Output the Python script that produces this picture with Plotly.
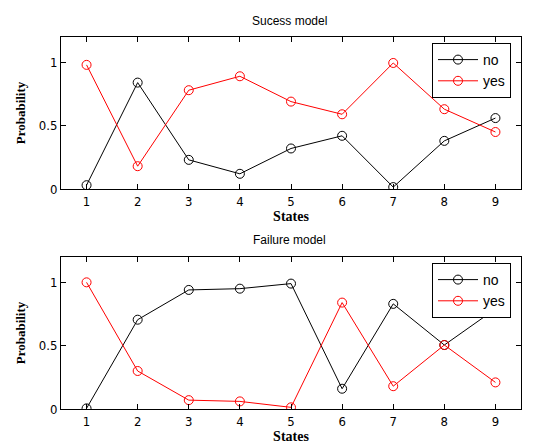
import plotly.graph_objects as go

states = [1, 2, 3, 4, 5, 6, 7, 8, 9]
success_no = [0.03, 0.84, 0.23, 0.12, 0.32, 0.42, 0.015, 0.38, 0.56]
success_yes = [0.98, 0.18, 0.78, 0.89, 0.69, 0.59, 0.995, 0.63, 0.45]
failure_no = [0.005, 0.705, 0.94, 0.95, 0.99, 0.16, 0.83, 0.505, 0.79]
failure_yes = [1.0, 0.30, 0.07, 0.06, 0.013, 0.84, 0.18, 0.505, 0.21]
tick_vals_y = [0, 0.5, 1]
tick_text_y = ["0", "0.5", "1"]

W, H = 545, 446
L, R = 61, 521
top_box = (37, 189)
bot_box = (257, 409)

def yd(box):
    return [(H - box[1]) / H, (H - box[0]) / H]

fig = go.Figure()
mk = dict(symbol="circle-open", size=9, line=dict(width=1))
fig.add_trace(go.Scatter(x=states, y=success_no, name="no", mode="lines+markers",
                         line=dict(color="black", width=1), marker=dict(color="black", **mk),
                         xaxis="x", yaxis="y", legend="legend"))
fig.add_trace(go.Scatter(x=states, y=success_yes, name="yes", mode="lines+markers",
                         line=dict(color="red", width=1), marker=dict(color="red", **mk),
                         xaxis="x", yaxis="y", legend="legend"))
fig.add_trace(go.Scatter(x=states, y=failure_no, name="no", mode="lines+markers",
                         line=dict(color="black", width=1), marker=dict(color="black", **mk),
                         xaxis="x2", yaxis="y2", legend="legend2"))
fig.add_trace(go.Scatter(x=states, y=failure_yes, name="yes", mode="lines+markers",
                         line=dict(color="red", width=1), marker=dict(color="red", **mk),
                         xaxis="x2", yaxis="y2", legend="legend2"))

tickfont = dict(family="DejaVu Sans Condensed, Liberation Sans Narrow, Liberation Sans", size=13, color="black")
titlefont = dict(family="Liberation Serif", size=14, color="black", weight="bold")
ytitlefont = dict(family="Liberation Serif", size=13, color="black", weight="bold")

common_x = dict(range=[0.5, 9.5], tickvals=states, ticks="inside", ticklen=5, tickcolor="black",
                showline=True, linecolor="black", linewidth=1, mirror="ticks", showgrid=False,
                zeroline=False, tickfont=tickfont, automargin=False,
                title=dict(text="States", font=titlefont, standoff=2))
common_y = dict(range=[0, 1.2], tickvals=tick_vals_y, ticktext=tick_text_y, ticks="inside", ticklen=5,
                tickcolor="black", showline=True, linecolor="black", linewidth=1, mirror="ticks",
                showgrid=False, zeroline=False, tickfont=tickfont, automargin=False,
                title=dict(text="Probability", font=ytitlefont, standoff=10))

legfont = dict(family="Liberation Sans", size=14, color="black")
fig.update_layout(
    width=W, height=H, margin=dict(l=0, r=0, t=0, b=0, autoexpand=False),
    paper_bgcolor="white", plot_bgcolor="white",
    xaxis=dict(domain=[L / W, R / W], anchor="y", **common_x),
    yaxis=dict(domain=yd(top_box), anchor="x", **common_y),
    xaxis2=dict(domain=[L / W, R / W], anchor="y2", **common_x),
    yaxis2=dict(domain=yd(bot_box), anchor="x2", **common_y),
    legend=dict(x=432 / W, y=(H - 43) / H, xanchor="left", yanchor="top",
                bgcolor="white", bordercolor="black", borderwidth=1,
                font=legfont, tracegroupgap=0, itemwidth=40),
    legend2=dict(x=432 / W, y=(H - 263) / H, xanchor="left", yanchor="top",
                 bgcolor="white", bordercolor="black", borderwidth=1,
                 font=legfont, tracegroupgap=0, itemwidth=40),
    annotations=[
        dict(text="Sucess model", x=289 / W, y=(H - 21) / H, xref="paper", yref="paper",
             xanchor="center", yanchor="middle",
             showarrow=False, font=dict(family="Liberation Sans", size=12, color="black")),
        dict(text="Failure model", x=289 / W, y=(H - 240) / H, xref="paper", yref="paper",
             xanchor="center", yanchor="middle",
             showarrow=False, font=dict(family="Liberation Sans", size=12, color="black")),
    ],
)

fig.write_html("out.html", config={"displayModeBar": False},
               post_script="document.body.style.margin='0';document.body.style.overflow='hidden';")
